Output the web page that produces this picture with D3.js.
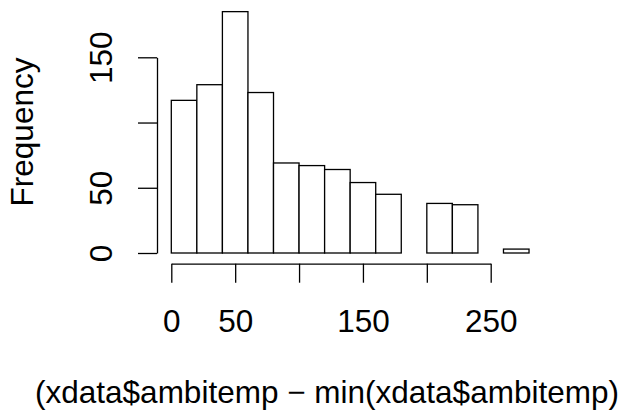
<!DOCTYPE html>
<html>
<head>
<meta charset="utf-8">
<script src="https://cdn.jsdelivr.net/npm/d3@7"></script>
<style>
  body { margin: 0; background: #fff; }
  svg text { font-family: "Liberation Sans", Arial, Helvetica, sans-serif; fill: #000; }
</style>
</head>
<body>
<svg id="hist" width="626" height="414"></svg>
<script>
// histogram bins (width 20) and counts
var binStarts = [0, 20, 40, 60, 80, 100, 120, 140, 160, 180, 200, 220, 240, 260];
var binWidth = 20;
var counts = [117, 129, 185, 123, 69, 67, 64, 54, 45, 0, 38, 37, 0, 3];

var xTicks = [0, 50, 100, 150, 200, 250];
var xLabels = ["0", "50", "", "150", "", "250"];
var yTicks = [0, 50, 100, 150];
var yLabels = ["0", "50", "", "150"];

var xTitle = "(xdata$ambitemp \u2212 min(xdata$ambitemp)";
var yTitle = "Frequency";

var svg = d3.select("svg#hist");
var fontSize = 31.5;

var x = d3.scaleLinear().domain([0, 250]).range([171.3, 490.7]);
var y = d3.scaleLinear().domain([0, 150]).range([253, 57.3]);

// bars
svg.append("g")
    .selectAll("rect")
    .data(binStarts)
    .enter().append("rect")
    .attr("x", (d) => x(d))
    .attr("width", (d) => x(d + binWidth) - x(d))
    .attr("y", (d, i) => y(counts[i]))
    .attr("height", (d, i) => y(0) - y(counts[i]))
    .attr("fill", "#fff")
    .attr("stroke", "#000")
    .attr("stroke-width", 1.3);

// x axis
var xAxis = svg.append("g")
    .attr("transform", "translate(0,263.7)")
    .call(d3.axisBottom(x).tickValues(xTicks)
        .tickFormat((d, i) => xLabels[i])
        .tickSize(19).tickSizeOuter(0).tickPadding(26.6));
xAxis.selectAll("path, line").attr("stroke", "#000").attr("stroke-width", 1.3);
xAxis.selectAll("text").style("font-size", fontSize + "px");

// y axis
var yAxis = svg.append("g")
    .attr("transform", "translate(157,0)")
    .call(d3.axisLeft(y).tickValues(yTicks)
        .tickFormat((d, i) => yLabels[i])
        .tickSize(19).tickSizeOuter(0));
yAxis.selectAll("path, line").attr("stroke", "#000").attr("stroke-width", 1.3);
yAxis.selectAll("text")
    .attr("x", 0).attr("dy", null)
    .attr("text-anchor", "middle")
    .attr("transform", "translate(-45,0) rotate(-90)")
    .style("font-size", fontSize + "px");

// titles
svg.append("text")
    .attr("x", 327).attr("y", 403)
    .attr("text-anchor", "middle")
    .style("font-size", fontSize + "px")
    .text(xTitle);

svg.append("text")
    .attr("transform", "translate(33,132) rotate(-90)")
    .attr("text-anchor", "middle")
    .style("font-size", fontSize + "px")
    .text(yTitle);
</script>
</body>
</html>
